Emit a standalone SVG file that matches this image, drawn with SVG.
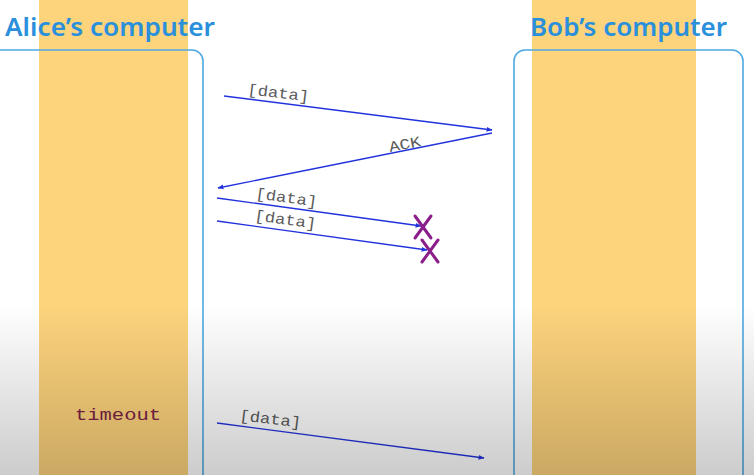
<svg xmlns="http://www.w3.org/2000/svg" width="754" height="475" viewBox="0 0 754 475">
<defs>
<style>
.title{font-family:"Noto Sans","DejaVu Sans",sans-serif;font-size:25px;font-weight:600;fill:#2a90dc}
.box{fill:none;stroke:#4ea9e2;stroke-width:1.6}
.band{fill:#fdd37c}
.msg{stroke:#2233dd;stroke-width:1.4;fill:none;marker-end:url(#ah)}
.lbl{font-family:"Liberation Mono",monospace;font-size:15px;fill:#5a5a5a}
.x{stroke:#8a1e8a;stroke-width:3;stroke-linecap:round}
</style>
<marker id="ah" viewBox="0 0 10 10" refX="9" refY="5" markerWidth="6" markerHeight="6" orient="auto" markerUnits="userSpaceOnUse">
<path d="M0,1 L10,5 L0,9 z" fill="#2233dd"/>
</marker>
<linearGradient id="shade" x1="0" y1="305" x2="0" y2="475" gradientUnits="userSpaceOnUse">
<stop offset="0" stop-color="#000" stop-opacity="0"/>
<stop offset="1" stop-color="#000" stop-opacity="0.2"/>
</linearGradient>
</defs>
<rect width="754" height="475" fill="#fff"/>
<g id="alice">
<rect class="band" x="39" y="0" width="149" height="475"/>
<rect class="box" x="-12" y="50" width="215" height="440" rx="11"/>
<text class="title" x="5" y="36" textLength="210" lengthAdjust="spacingAndGlyphs">Alice’s computer</text>
<text x="75" y="420" font-family="Liberation Mono,monospace" font-size="16" fill="#7a2346" textLength="86" lengthAdjust="spacingAndGlyphs">timeout</text>
</g>
<g id="bob">
<rect class="band" x="532" y="0" width="164" height="475"/>
<rect class="box" x="514" y="50" width="229" height="440" rx="11"/>
<text class="title" x="530" y="36" textLength="197" lengthAdjust="spacingAndGlyphs">Bob’s computer</text>
</g>
<g id="connectors">
<line class="msg" x1="224" y1="96" x2="492" y2="130"/>
<line class="msg" x1="492" y1="133" x2="218" y2="188"/>
<line class="msg" x1="217" y1="198" x2="421" y2="226"/>
<line class="msg" x1="217" y1="221" x2="427" y2="250"/>
<line class="msg" x1="217" y1="423" x2="484" y2="458"/>
</g>
<g id="labels">
<text class="lbl" transform="translate(247,94) rotate(7)" textLength="62" lengthAdjust="spacingAndGlyphs">[data]</text>
<text class="lbl" transform="translate(390,152) rotate(-11)" textLength="32" lengthAdjust="spacingAndGlyphs">ACK</text>
<text class="lbl" transform="translate(255,198) rotate(8)" textLength="62" lengthAdjust="spacingAndGlyphs">[data]</text>
<text class="lbl" transform="translate(254,220) rotate(8)" textLength="62" lengthAdjust="spacingAndGlyphs">[data]</text>
<text class="lbl" transform="translate(239,420) rotate(7)" textLength="62" lengthAdjust="spacingAndGlyphs">[data]</text>
</g>
<g id="drops">
<path class="x" d="M415,216 L431,238 M431,216 L415,238"/>
<path class="x" d="M422,240 L438,262 M438,240 L422,262"/>
</g>
<rect width="754" height="475" fill="url(#shade)"/>
</svg>
